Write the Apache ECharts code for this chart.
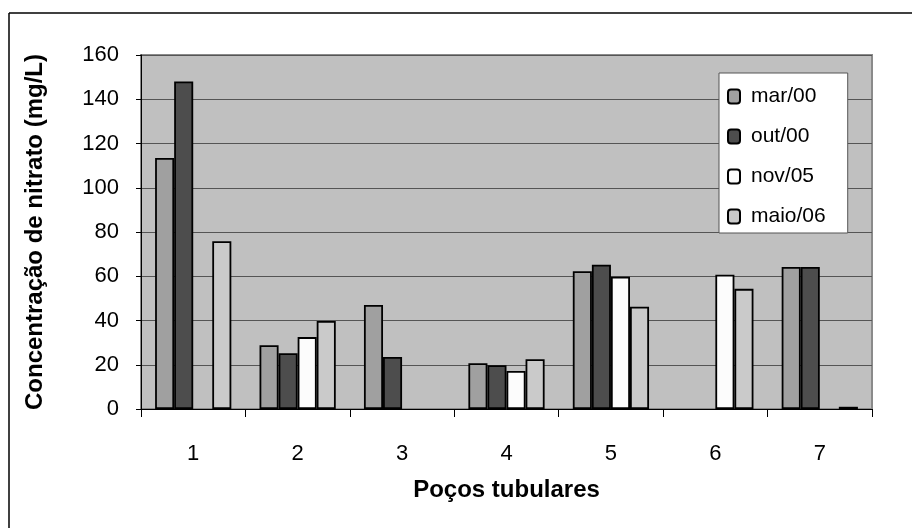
<!DOCTYPE html>
<html>
<head>
<meta charset="utf-8">
<script src="https://cdn.jsdelivr.net/npm/echarts@6/dist/echarts.min.js"></script>
<style>
html,body{margin:0;padding:0;background:#fff;}
#chart{width:912px;height:528px;}
</style>
</head>
<body>
<div id="chart"></div>
<script>
const categories = ['1', '2', '3', '4', '5', '6', '7'];
const seriesNames = ['mar/00', 'out/00', 'nov/05', 'maio/06'];
const mar00  = [113.5, 28.8, 47, 20.7, 62.3, null, 64.2];
const out00  = [148, 25.2, 23.5, 19.8, 65.2, null, 64.2];
const nov05  = [null, 32.5, null, 17.2, 59.8, 60.7, null];
const maio06 = [75.8, 39.8, null, 22.5, 46.2, 54.3, 1];
const yTicks = [0, 20, 40, 60, 80, 100, 120, 140, 160];

const colors = ['#a0a0a0', '#4d4d4d', '#fcfcfc', '#cacaca'];
const dataSets = [mar00, out00, nov05, maio06];
const FONT = "'Liberation Sans', Arial, sans-serif";

const chart = echarts.init(document.getElementById('chart'), null, {renderer: 'canvas'});
chart.setOption({
  animation: false,
  backgroundColor: '#ffffff',
  textStyle: {fontFamily: FONT, color: '#000'},
  graphic: [
    {type: 'line', shape: {x1: 9, y1: 13, x2: 912, y2: 13}, style: {stroke: '#000', lineWidth: 1.5}},
    {type: 'line', shape: {x1: 9, y1: 13, x2: 9, y2: 528}, style: {stroke: '#000', lineWidth: 1.5}}
  ],
  grid: {
    left: 141, right: 40, top: 55, bottom: 119,
    show: true, backgroundColor: '#c0c0c0', borderColor: '#8a8a8a', borderWidth: 2
  },
  legend: {
    orient: 'vertical',
    left: 719, top: 73,
    padding: [13, 22, 6, 8],
    itemGap: 19,
    itemWidth: 12, itemHeight: 14,
    backgroundColor: '#fff',
    borderColor: '#555', borderWidth: 1,
    textStyle: {fontFamily: FONT, fontSize: 21, color: '#000', padding: [0, 0, 0, 6]},
    data: seriesNames
  },
  xAxis: {
    type: 'category',
    data: categories,
    name: 'Poços tubulares',
    nameLocation: 'middle',
    nameGap: 69,
    nameTextStyle: {fontFamily: FONT, fontSize: 24, fontWeight: 'bold', color: '#000'},
    axisLine: {show: true, lineStyle: {color: '#000', width: 1}},
    axisTick: {show: true, alignWithLabel: false, length: 8, lineStyle: {color: '#000'}},
    axisLabel: {fontFamily: FONT, fontSize: 22, color: '#000', margin: 34},
    splitLine: {show: false}
  },
  yAxis: {
    type: 'value',
    min: yTicks[0], max: yTicks[yTicks.length - 1], interval: 20,
    name: 'Concentração de nitrato (mg/L)',
    nameLocation: 'middle',
    nameGap: 94,
    nameRotate: 90,
    nameTextStyle: {fontFamily: FONT, fontSize: 24, fontWeight: 'bold', color: '#000'},
    axisLine: {show: true, lineStyle: {color: '#000', width: 1}},
    axisTick: {show: true, length: 5, lineStyle: {color: '#000'}},
    axisLabel: {fontFamily: FONT, fontSize: 22, color: '#000', margin: 22},
    splitLine: {show: true, lineStyle: {color: '#555', width: 1.2}}
  },
  series: seriesNames.map((n, i) => ({
    name: n,
    type: 'bar',
    data: dataSets[i],
    barGap: '0%',
    barCategoryGap: '27%',
    itemStyle: {color: colors[i], borderColor: '#000', borderWidth: 1.8}
  }))
});
</script>
</body>
</html>
